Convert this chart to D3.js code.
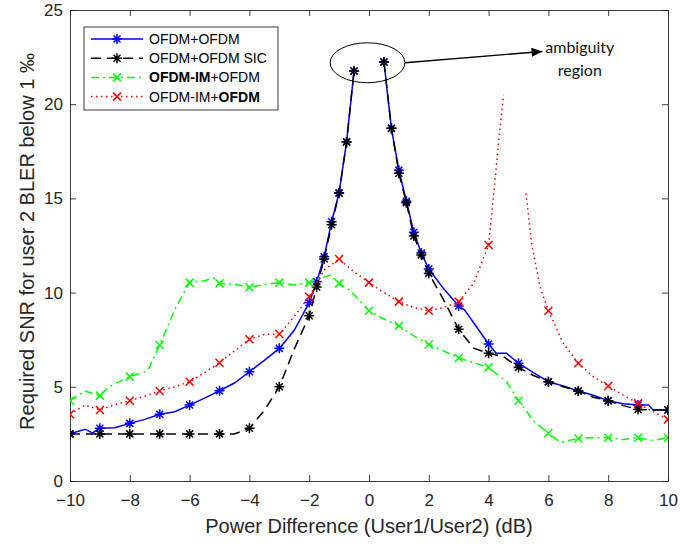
<!DOCTYPE html>
<html>
<head>
<meta charset="utf-8">
<script src="https://cdn.jsdelivr.net/npm/d3@7"></script>
<style>
  body { margin: 0; background: #fff; }
  text { font-family: "Liberation Sans", Arial, sans-serif; fill: #262626; }
</style>
</head>
<body>
<svg id="chart" width="700" height="544"></svg>
<script>
// tick values
const xTicks = [-10, -8, -6, -4, -2, 0, 2, 4, 6, 8, 10];
const yTicks = [0, 5, 10, 15, 20, 25];

// OFDM+OFDM (blue), null = no result in the ambiguity region
const blueX = [-10, -9.5, -9.25, -9, -8.5, -8, -7.5, -7, -6.5, -6, -5.5, -5, -4.5, -4, -3.5, -3, -2.5, -2,
  -1.75, -1.5, -1.25, -1, -0.75, -0.5, 0, 0.5, 0.75, 1, 1.25, 1.5, 1.75, 2, 2.5, 3, 3.2, 3.5, 4, 4.25, 4.6,
  5, 5.5, 6, 6.5, 7, 7.5, 8, 8.5, 9, 9.35, 9.5, 10];
const blueY = [2.5, 2.75, 2.55, 2.8, 2.83, 3.06, 3.27, 3.54, 3.68, 4.03, 4.4, 4.79, 5.2, 5.8, 6.4, 7.04, 8.0, 9.47,
  10.58, 11.9, 13.76, 15.3, 18.0, 21.76, null, 22.24, 18.72, 16.5, 14.85, 13.2, 12.1, 11.25, 10.2, 9.29, 9.07, 8.4, 7.27, 6.78, 6.78,
  6.25, 5.75, 5.27, 5.05, 4.78, 4.55, 4.26, 4.1, 4.03, 4.03, 3.77, 3.77];

// OFDM+OFDM SIC (black)
const blackX = [-10, -9, -8, -7, -6, -5, -4.5, -4, -3.5, -3, -2.5, -2, -1.75, -1.5, -1.25, -1, -0.75, -0.5, 0,
  0.5, 0.75, 1, 1.25, 1.5, 1.75, 2, 2.5, 3, 3.5, 4, 4.5, 5, 5.5, 6, 6.5, 7, 7.5, 8, 8.5, 9, 9.5, 10];
const blackY = [2.5, 2.5, 2.5, 2.5, 2.5, 2.5, 2.5, 2.8, 3.75, 5.0, 7.0, 8.77, 10.3, 11.78, 13.6, 15.27, 18.0, 21.76, null,
  22.24, 18.72, 16.33, 14.77, 13.0, 12.0, 11.02, 9.6, 8.05, 7.05, 6.78, 6.6, 6.03, 5.6, 5.27, 5.0, 4.78, 4.45, 4.26, 4.0, 3.8, 3.77, 3.77];

// OFDM-IM+OFDM (green)
const greenX = [-10, -9.5, -9, -8.7, -8, -7.4, -7, -6.45, -6, -5.5, -5.2, -5, -4.5, -4, -3.6, -3, -2.5, -2, -1.3, -1,
  -0.65, 0, 0.5, 1, 1.5, 2, 2.5, 3, 3.4, 4, 4.6, 5, 5.5, 6, 6.4, 7, 7.5, 8, 8.5, 9, 9.5, 10];
const greenY = [4.26, 4.78, 4.53, 5.0, 5.54, 5.85, 7.22, 9.25, 10.53, 10.63, 10.77, 10.49, 10.45, 10.28, 10.4, 10.53, 10.4, 10.53, 10.93, 10.49,
  10.14, 9.04, 8.6, 8.24, 7.7, 7.25, 6.9, 6.53, 6.33, 6.03, 5.27, 4.26, 3.2, 2.53, 2.05, 2.26, 2.3, 2.3, 2.2, 2.3, 2.15, 2.3];

// OFDM-IM+OFDM (red)
const redX = [-10, -9.5, -9, -8.5, -8, -7.5, -7, -6.5, -6, -5.5, -5, -4.5, -4, -3.5, -3, -2.5, -2, -1.5, -1, -0.5, 0,
  0.5, 1, 1.5, 2, 2.5, 3, 3.5, 4, 4.15, 4.33, 4.5, 4.9, 5.25, 5.44, 5.72, 6, 6.5, 7, 7.5, 8, 8.5, 9, 9.5, 10];
const redY = [3.54, 4.03, 3.77, 4.05, 4.26, 4.5, 4.78, 5.0, 5.27, 5.75, 6.28, 6.9, 7.52, 7.78, 7.8, 8.73, 9.78, 11.2, 11.78, 11.1, 10.53,
  10.0, 9.52, 9.2, 9.04, 9.2, 9.52, 10.49, 12.53, 14.9, 17.9, 20.5, null, 15.27, 12.6, 10.3, 9.04, 7.3, 6.25, 5.54, 5.04, 4.56, 4.12, 3.68, 3.27];

const legendNames = [
  [['OFDM+OFDM', false]],
  [['OFDM+OFDM SIC', false]],
  [['OFDM-IM', true], ['+OFDM', false]],
  [['OFDM-IM+', false], ['OFDM', true]]
];

const width = 700, height = 544;
const margin = { left: 70, top: 10, right: 32, bottom: 63 };
const svg = d3.select('#chart');

let x = d3.scaleLinear().domain([-10, 10]).range([margin.left, width - margin.right]);
let y = d3.scaleLinear().domain([0, 25]).range([height - margin.bottom, margin.top]);

// clip so curves stay inside the box
svg.append('clipPath').attr('id', 'plotclip')
  .append('rect')
  .attr('x', x(-10)).attr('y', y(25))
  .attr('width', x(10) - x(-10)).attr('height', y(0) - y(25));

// axes, matlab style: ticks inward on all four sides
const axisColor = '#262626';
function styleAxis(g) {
  g.selectAll('path, line').attr('stroke', axisColor).attr('stroke-width', 0.9);
  g.selectAll('text').attr('fill', axisColor).style('font-size', '17px')
    .style('font-family', '"Liberation Sans", Arial, sans-serif');
}
svg.append('g')
  .attr('transform', `translate(0,${y(0)})`)
  .call(d3.axisBottom(x).tickValues(xTicks).tickSizeInner(-6).tickSizeOuter(0).tickPadding(13))
  .call(styleAxis);
svg.append('g')
  .attr('transform', `translate(0,${y(25)})`)
  .call(d3.axisTop(x).tickValues(xTicks).tickSizeInner(-6).tickSizeOuter(0).tickFormat(''))
  .call(styleAxis);
svg.append('g')
  .attr('transform', `translate(${x(-10)},0)`)
  .call(d3.axisLeft(y).tickValues(yTicks).tickSizeInner(-6).tickSizeOuter(0).tickPadding(7))
  .call(styleAxis);
svg.append('g')
  .attr('transform', `translate(${x(10)},0)`)
  .call(d3.axisRight(y).tickValues(yTicks).tickSizeInner(-6).tickSizeOuter(0).tickFormat(''))
  .call(styleAxis);

// axis labels
svg.append('text')
  .attr('x', (x(-10) + x(10)) / 2).attr('y', 533)
  .attr('text-anchor', 'middle').style('font-size', '20px')
  .text('Power Difference (User1/User2) (dB)');
svg.append('text')
  .attr('transform', `translate(34,${(y(0) + y(25)) / 2 - 4}) rotate(-90)`)
  .attr('text-anchor', 'middle').style('font-size', '20px')
  .text('Required SNR for user 2 BLER below 1 \u2030');

// marker shapes
const starPath = 'M-5,0H5M0,-5V5M-3.5,-3.5L3.5,3.5M-3.5,3.5L3.5,-3.5';
const crossPath = 'M-4,-4L4,4M-4,4L4,-4';

// markers sit on whole dB steps, plus quarter steps in the centre for blue/black
function onGrid(v) { return Number.isInteger(v); }
function onFineGrid(v) { return Number.isInteger(v) || (Math.abs(v) < 2 && Number.isInteger(v * 4)); }

const series = [
  { xs: blueX, ys: blueY, color: '#0000ff', dash: null, marker: starPath, mark: onFineGrid },
  { xs: blackX, ys: blackY, color: '#000000', dash: '10,6', marker: starPath, mark: onFineGrid },
  { xs: greenX, ys: greenY, color: '#00ff00', dash: '8,4,2,4', marker: crossPath, mark: onGrid },
  { xs: redX, ys: redY, color: '#ff0000', dash: '1.5,3.5', marker: crossPath, mark: onGrid }
];

const plotG = svg.append('g').attr('clip-path', 'url(#plotclip)');

let line = d3.line()
  .defined(d => d[1] != null)
  .x(d => x(d[0]))
  .y(d => y(d[1]));

series.forEach(s => {
  let data = s.xs.map((v, i) => [v, s.ys[i]]);
  plotG.append('path')
    .datum(data)
    .attr('d', line)
    .attr('fill', 'none')
    .attr('stroke', s.color)
    .attr('stroke-width', 1.5)
    .attr('stroke-dasharray', s.dash);
  plotG.selectAll(null)
    .data(data.filter(d => d[1] != null && s.mark(d[0])))
    .enter()
    .append('path')
    .attr('transform', d => `translate(${x(d[0])},${y(d[1])})`)
    .attr('d', s.marker)
    .attr('fill', 'none')
    .attr('stroke', s.color)
    .attr('stroke-width', 1.5);
});

// ambiguity annotation (in data units)
const ellCx = -0.05, ellCy = 22.2, ellRx = 1.25, ellRy = 1.06;
svg.append('ellipse')
  .attr('cx', x(ellCx)).attr('cy', y(ellCy))
  .attr('rx', x(ellRx) - x(0)).attr('ry', y(0) - y(ellRy))
  .attr('fill', 'none').attr('stroke', '#000').attr('stroke-width', 1);

svg.append('defs').append('marker')
  .attr('id', 'arrowhead')
  .attr('viewBox', '0 0 12 10')
  .attr('refX', 12).attr('refY', 5)
  .attr('markerWidth', 12).attr('markerHeight', 9)
  .attr('markerUnits', 'userSpaceOnUse')
  .attr('orient', 'auto')
  .append('path').attr('d', 'M0,0L12,5L0,10Z').attr('fill', '#000');

svg.append('line')
  .attr('x1', x(ellCx + ellRx)).attr('y1', y(ellCy))
  .attr('x2', x(5.8)).attr('y2', y(22.8))
  .attr('stroke', '#000').attr('stroke-width', 1.4)
  .attr('marker-end', 'url(#arrowhead)');

svg.append('text')
  .attr('x', x(7.05)).attr('y', y(22.72))
  .attr('text-anchor', 'middle')
  .style('font-family', 'Lato, sans-serif').style('font-size', '16px').style('fill', '#111')
  .text('ambiguity');
svg.append('text')
  .attr('x', x(7.05)).attr('y', y(21.5))
  .attr('text-anchor', 'middle')
  .style('font-family', 'Lato, sans-serif').style('font-size', '16px').style('fill', '#111')
  .text('region');

// legend
const lg = svg.append('g').attr('transform', 'translate(84,27)');
lg.append('rect')
  .attr('width', 194).attr('height', 83)
  .attr('fill', '#fff').attr('stroke', axisColor).attr('stroke-width', 0.9);

legendNames.forEach((parts, i) => {
  let s = series[i];
  let ry = 12 + i * 19.2;
  lg.append('line')
    .attr('x1', 7).attr('x2', 59).attr('y1', ry).attr('y2', ry)
    .attr('stroke', s.color).attr('stroke-width', 1.5)
    .attr('stroke-dasharray', s.dash);
  lg.append('path')
    .attr('transform', `translate(33,${ry})`)
    .attr('d', s.marker)
    .attr('fill', 'none').attr('stroke', s.color).attr('stroke-width', 1.5);
  let t = lg.append('text')
    .attr('x', 65).attr('y', ry + 5)
    .style('font-size', '14px').style('fill', '#000');
  parts.forEach(p => {
    t.append('tspan').attr('font-weight', p[1] ? 'bold' : 'normal').text(p[0]);
  });
});
</script>
</body>
</html>
